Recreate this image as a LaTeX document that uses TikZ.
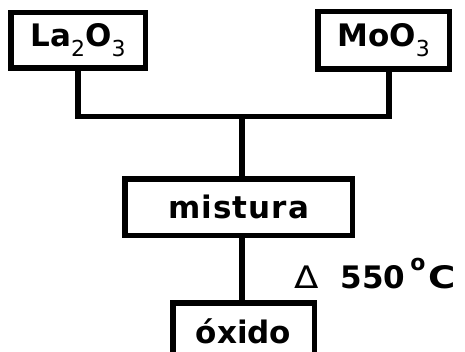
\documentclass[tikz,border=0pt]{standalone}
\usepackage{graphicx}
\usepackage{fontspec}
\setmainfont{DejaVu Sans}
\newfontfamily\trackedfont[LetterSpace=3.5]{DejaVu Sans}
\newcommand{\chemsub}[1]{\raisebox{-0.32em}{\fontsize{22}{22}\mdseries\selectfont #1}}
\begin{document}
\begin{tikzpicture}[x=1pt,y=1pt,
  stagebox/.style={draw=black,line width=5.5pt,inner sep=0pt,
    font=\fontsize{31}{31}\bfseries\selectfont},
  link/.style={draw=black,line width=5.5pt}]
\useasboundingbox (0,0) rectangle (465,351);
\clip (0,0) rectangle (465,351);
% starting oxides
\node[stagebox,minimum width=134.5pt,minimum height=55.5pt] (la) at (78,310.5) {\raisebox{-2pt}{La\chemsub{2}O\chemsub{3}}};
\node[stagebox,minimum width=131.5pt,minimum height=57.5pt] (mo) at (383.5,310.5) {\raisebox{-2pt}{MoO\chemsub{3}}};
% mixture and product
\node[stagebox,minimum width=227.5pt,minimum height=56.5pt] (mix) at (238.5,144) {\trackedfont\bfseries mistura\hspace{-2pt}};
\node[stagebox,minimum width=141.5pt,minimum height=56.5pt] (ox) at (243.5,20) {óxido};
% feed lines joining above the mixture
\coordinate (j) at (242,234.5);
\coordinate (mofoot) at ([xshift=5.5pt]mo.south);
\draw[link] (la.south) |- (j) -| (mofoot);
\draw[link] (j) -- (j |- mix.north);
\draw[link] (mix.south -| j) -- (ox.north -| j);
% heating condition
\node[anchor=base west,inner sep=0pt,font=\fontsize{31}{31}\bfseries\selectfont] (heat) at (294,63)
  {\scalebox{1.15}[1]{\mdseries\fontsize{31}{31}\selectfont Δ}\hspace{22pt}550\hspace{5pt}\raisebox{0.56em}{\fontsize{22}{22}\selectfont o}\hspace{3pt}\scalebox{1.2}[1]{C}};
\end{tikzpicture}
\end{document}
